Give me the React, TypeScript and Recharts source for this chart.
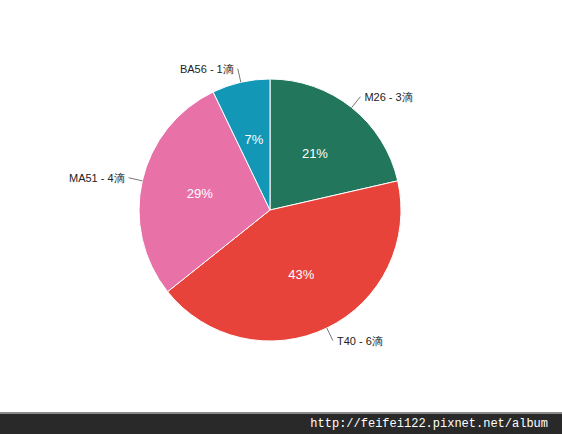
import { PieChart, Pie, Cell } from 'recharts';

const names = ['M26 - 3滴', 'T40 - 6滴', 'MA51 - 4滴', 'BA56 - 1滴'];
const drops = [3, 6, 4, 1];
const colors = ['#21765c', '#e8433b', '#e872a8', '#1297b7'];

const data = names.map((name, i) => ({ name, value: drops[i] }));

const RAD = Math.PI / 180;

function renderLabel(props: any) {
  const { cx, cy, midAngle, outerRadius, percent, name } = props;
  const cos = Math.cos(-midAngle * RAD);
  const sin = Math.sin(-midAngle * RAD);
  const inner = outerRadius * 0.55;
  const sx = cx + outerRadius * cos;
  const sy = cy + outerRadius * sin;
  const ex = cx + (outerRadius + 14) * cos;
  const ey = cy + (outerRadius + 14) * sin;
  const right = cos >= 0;
  return (
    <g>
      <text
        x={cx + inner * cos}
        y={cy + inner * sin}
        fill="#fff"
        fontSize={13}
        textAnchor="middle"
        dominantBaseline="central"
      >
        {`${Math.round(percent * 100)}%`}
      </text>
      <line x1={sx} y1={sy} x2={ex} y2={ey} stroke="#555" strokeWidth={0.8} />
      <text
        x={ex + (right ? 4 : -4)}
        y={ey}
        fill="#222"
        fontSize={11}
        textAnchor={right ? 'start' : 'end'}
        dominantBaseline="central"
      >
        {name}
      </text>
    </g>
  );
}

export default function App() {
  return (
    <div style={{ position: 'absolute', left: 0, top: 0, width: 562, height: 434, background: '#fff', fontFamily: 'Liberation Sans, Arial, sans-serif' }}>
      <PieChart width={562} height={412} margin={{ top: 0, right: 0, bottom: 0, left: 0 }}>
        <Pie
          data={data}
          dataKey="value"
          cx={270}
          cy={210}
          outerRadius={131}
          startAngle={90}
          endAngle={-270}
          stroke="#fff"
          strokeWidth={1}
          label={renderLabel}
          labelLine={false}
          isAnimationActive={false}
        >
          {data.map((d, i) => (
            <Cell key={d.name} fill={colors[i]} />
          ))}
        </Pie>
      </PieChart>
      <div
        style={{
          position: 'absolute',
          left: 0,
          top: 412,
          width: 562,
          height: 22,
          background: '#292929',
          borderTop: '2px solid #8a8a8a',
          boxSizing: 'border-box',
          color: '#fff',
          fontFamily: 'Liberation Mono, monospace',
          fontSize: 12,
          lineHeight: '20px',
          textAlign: 'right',
          paddingRight: 14,
        }}
      >
        http://feifei122.pixnet.net/album
      </div>
    </div>
  );
}
